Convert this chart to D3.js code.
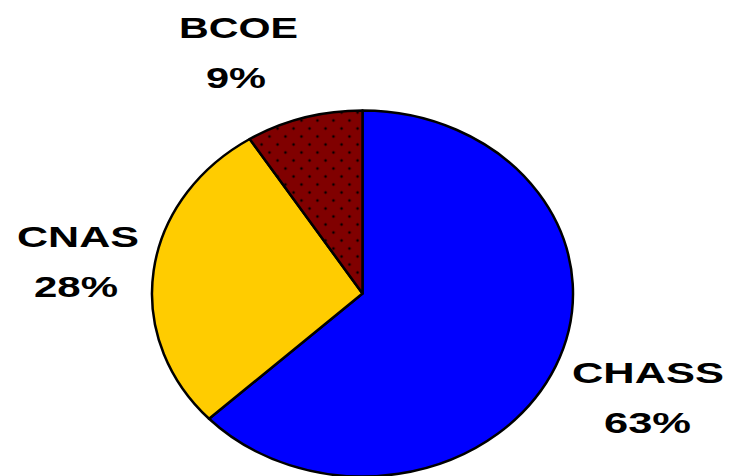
<!DOCTYPE html>
<html><head><meta charset="utf-8">
<script src="https://cdn.jsdelivr.net/npm/d3@7"></script>
<style>html,body{margin:0;padding:0;background:#fff;}svg{display:block;}</style>
</head><body>
<svg id="chart" width="729" height="476"></svg>
<script>
const categories = ["CHASS", "CNAS", "BCOE"];
const values = [63, 28, 9];
const labels = ["63%", "28%", "9%"];
const colors = ["#0000ff", "#ffcc00", "#800000"];

const W = 729, H = 476;
const cx = 362.5, cy = 293.5, rx = 210.5, ry = 183;
const R = 100;
const svg = d3.select("#chart");
const defs = svg.append("defs");
const pat = defs.append("pattern").attr("id", "dots")
  .attr("patternUnits", "userSpaceOnUse").attr("width", 16).attr("height", 16)
  .attr("patternTransform", `scale(${R/rx},${R/ry})`);
pat.append("rect").attr("width", 16).attr("height", 16).attr("fill", "#800000");
[[3,3],[11,11]].forEach(([x,y]) => {
  pat.append("rect").attr("x", x-1).attr("y", y-1).attr("width", 2).attr("height", 2).attr("fill", "#000");
  pat.append("rect").attr("x", x-2).attr("y", y-0.5).attr("width", 4).attr("height", 1).attr("fill", "#000").attr("opacity", 0.3);
  pat.append("rect").attr("x", x-0.5).attr("y", y-2).attr("width", 1).attr("height", 4).attr("fill", "#000").attr("opacity", 0.3);
});

const pie = d3.pie().sort(null).value(d => d)(values);
const arc = d3.arc().innerRadius(0).outerRadius(R);

const g = svg.append("g").attr("transform", `translate(${cx},${cy}) scale(${rx/R},${ry/R})`);
g.selectAll("path").data(pie).join("path")
  .attr("d", arc)
  .attr("fill", (d, i) => i === 2 ? "url(#dots)" : colors[i])
  .attr("stroke", "#000").attr("stroke-width", 2.5)
  .attr("stroke-linejoin", "round")
  .attr("vector-effect", "non-scaling-stroke");

// label layout: [name centre x, name baseline, name width, pct centre x, pct width]
const labelPos = [[648, 383, 152, 647.5, 87], [78, 247, 122, 76, 84], [238.5, 38, 119, 236, 60]];
const fs = 30;
categories.forEach((c, i) => {
  const [x, y, w, px, pw] = labelPos[i];
  svg.append("text").attr("text-anchor", "middle").attr("x", x).attr("y", y)
    .attr("font-family", "Liberation Sans, Arial, sans-serif")
    .attr("font-weight", "bold").attr("font-size", fs).attr("fill", "#000")
    .attr("textLength", w).attr("lengthAdjust", "spacingAndGlyphs")
    .text(c);
  svg.append("text").attr("text-anchor", "middle").attr("x", px).attr("y", y + 50)
    .attr("font-family", "Liberation Sans, Arial, sans-serif")
    .attr("font-weight", "bold").attr("font-size", fs).attr("fill", "#000")
    .attr("textLength", pw).attr("lengthAdjust", "spacingAndGlyphs")
    .text(labels[i]);
});
</script>
</body></html>
